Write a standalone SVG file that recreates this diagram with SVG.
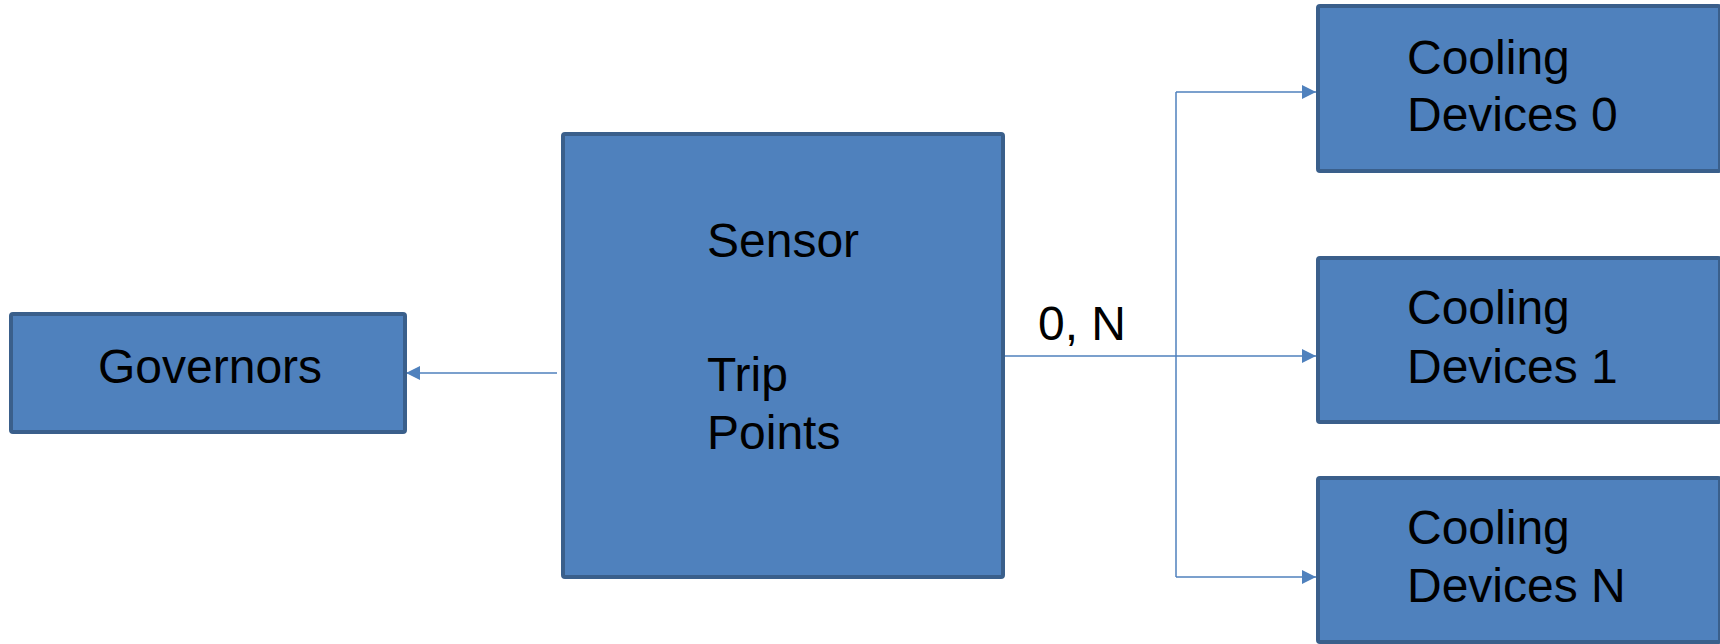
<svg xmlns="http://www.w3.org/2000/svg" width="1720" height="644" viewBox="0 0 1720 644">
<style>
.box{fill:#4f81bd;stroke:#3a5f8b;stroke-width:4}
.t{font-family:"Liberation Sans",Arial,sans-serif;font-size:48px;fill:#000}
.c{stroke:#4f81bd;stroke-width:1.5;fill:none}
</style>
<defs>
<marker id="ah" viewBox="0 0 14 14" refX="14" refY="7" markerWidth="14" markerHeight="14" markerUnits="userSpaceOnUse" orient="auto">
<path d="M0,0 L14,7 L0,14 Z" fill="#4f81bd"/>
</marker>
</defs>
<rect width="1720" height="644" fill="#fff"/>
<g id="connectors">
<line class="c" x1="557" y1="373" x2="406" y2="373" marker-end="url(#ah)"/>
<line class="c" x1="1003" y1="356" x2="1176" y2="356"/>
<line class="c" x1="1176" y1="92" x2="1176" y2="577"/>
<line class="c" x1="1176" y1="92" x2="1316" y2="92" marker-end="url(#ah)"/>
<line class="c" x1="1176" y1="356" x2="1316" y2="356" marker-end="url(#ah)"/>
<line class="c" x1="1176" y1="577" x2="1316" y2="577" marker-end="url(#ah)"/>
<text class="t" x="1038" y="340">0, N</text>
</g>
<g id="governors">
<rect class="box" x="11" y="314" width="394" height="118" rx="2"/>
<text class="t" x="98" y="383">Governors</text>
</g>
<g id="sensor">
<rect class="box" x="563" y="134" width="440" height="443" rx="2"/>
<text class="t" x="707" y="257">Sensor</text>
<text class="t" x="707" y="391">Trip</text>
<text class="t" x="707" y="449">Points</text>
</g>
<g id="cooling0">
<rect class="box" x="1318" y="6" width="402" height="165" rx="2"/>
<text class="t" x="1407" y="74">Cooling</text>
<text class="t" x="1407" y="131">Devices 0</text>
</g>
<g id="cooling1">
<rect class="box" x="1318" y="258" width="402" height="164" rx="2"/>
<text class="t" x="1407" y="324">Cooling</text>
<text class="t" x="1407" y="383">Devices 1</text>
</g>
<g id="coolingN">
<rect class="box" x="1318" y="478" width="402" height="164" rx="2"/>
<text class="t" x="1407" y="544">Cooling</text>
<text class="t" x="1407" y="602">Devices N</text>
</g>
</svg>
